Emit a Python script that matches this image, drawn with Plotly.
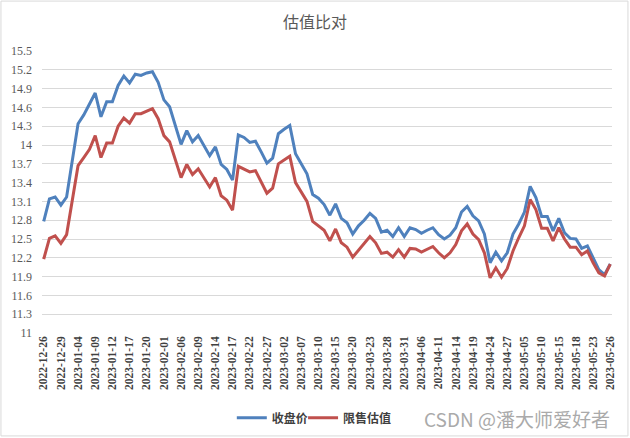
import plotly.graph_objects as go

# Trading days shown on the x axis
dates = [
    "2022-12-26", "2022-12-27", "2022-12-28", "2022-12-29", "2022-12-30",
    "2023-01-03", "2023-01-04", "2023-01-05", "2023-01-06", "2023-01-09",
    "2023-01-10", "2023-01-11", "2023-01-12", "2023-01-13", "2023-01-16",
    "2023-01-17", "2023-01-18", "2023-01-19", "2023-01-20", "2023-01-30",
    "2023-01-31", "2023-02-01", "2023-02-02", "2023-02-03", "2023-02-06",
    "2023-02-07", "2023-02-08", "2023-02-09", "2023-02-10", "2023-02-13",
    "2023-02-14", "2023-02-15", "2023-02-16", "2023-02-17", "2023-02-20",
    "2023-02-21", "2023-02-22", "2023-02-23", "2023-02-24", "2023-02-27",
    "2023-02-28", "2023-03-01", "2023-03-02", "2023-03-03", "2023-03-06",
    "2023-03-07", "2023-03-08", "2023-03-09", "2023-03-10", "2023-03-13",
    "2023-03-14", "2023-03-15", "2023-03-16", "2023-03-17", "2023-03-20",
    "2023-03-21", "2023-03-22", "2023-03-23", "2023-03-24", "2023-03-27",
    "2023-03-28", "2023-03-29", "2023-03-30", "2023-03-31", "2023-04-03",
    "2023-04-04", "2023-04-06", "2023-04-07", "2023-04-10", "2023-04-11",
    "2023-04-12", "2023-04-13", "2023-04-14", "2023-04-17", "2023-04-18",
    "2023-04-19", "2023-04-20", "2023-04-21", "2023-04-24", "2023-04-25",
    "2023-04-26", "2023-04-27", "2023-04-28", "2023-05-04", "2023-05-05",
    "2023-05-08", "2023-05-09", "2023-05-10", "2023-05-11", "2023-05-12",
    "2023-05-15", "2023-05-16", "2023-05-17", "2023-05-18", "2023-05-19",
    "2023-05-22", "2023-05-23", "2023-05-24", "2023-05-25", "2023-05-26",
]

close_price = [
    12.78, 13.14, 13.17, 13.04, 13.17, 13.76, 14.34, 14.48, 14.65, 14.83,
    14.45, 14.69, 14.69, 14.95, 15.10, 14.99, 15.13, 15.11, 15.15, 15.17,
    15.00, 14.72, 14.61, 14.32, 14.01, 14.23, 14.05, 14.15, 13.99, 13.83,
    13.97, 13.69, 13.61, 13.44, 14.16, 14.12, 14.04, 14.06, 13.89, 13.71,
    13.79, 14.18, 14.25, 14.31, 13.86, 13.70, 13.54, 13.21, 13.15, 13.05,
    12.88, 13.06, 12.83, 12.76, 12.58, 12.71, 12.80, 12.91, 12.83, 12.61,
    12.64, 12.54, 12.68, 12.54, 12.68, 12.65, 12.59, 12.64, 12.68, 12.57,
    12.50, 12.56, 12.68, 12.93, 13.02, 12.87, 12.79, 12.58, 12.12, 12.29,
    12.15, 12.28, 12.58, 12.74, 12.93, 13.34, 13.16, 12.86, 12.86, 12.63,
    12.83, 12.60, 12.51, 12.50, 12.35, 12.39, 12.19, 12.01, 11.93, 12.10,
]

restricted_value = [
    12.18, 12.51, 12.55, 12.43, 12.57, 13.12, 13.67, 13.80, 13.93, 14.15,
    13.80, 14.03, 14.03, 14.30, 14.43, 14.35, 14.50, 14.50, 14.54, 14.58,
    14.42, 14.15, 14.05, 13.77, 13.48, 13.69, 13.53, 13.62, 13.48, 13.33,
    13.48, 13.19, 13.12, 12.96, 13.66, 13.62, 13.57, 13.59, 13.41, 13.23,
    13.31, 13.70, 13.76, 13.82, 13.40, 13.24, 13.10, 12.78, 12.71, 12.64,
    12.47, 12.66, 12.44, 12.37, 12.21, 12.32, 12.42, 12.54, 12.44, 12.27,
    12.29, 12.21, 12.33, 12.21, 12.35, 12.34, 12.29, 12.33, 12.38, 12.28,
    12.20, 12.28, 12.41, 12.63, 12.74, 12.58, 12.49, 12.28, 11.88, 12.04,
    11.89, 12.03, 12.31, 12.52, 12.71, 13.13, 12.97, 12.67, 12.67, 12.47,
    12.68, 12.50, 12.37, 12.37, 12.25, 12.31, 12.12, 11.96, 11.91, 12.10,
]

y_ticks = [11, 11.3, 11.6, 11.9, 12.2, 12.5, 12.8, 13.1, 13.4, 13.7, 14,
           14.3, 14.6, 14.9, 15.2, 15.5]

fig = go.Figure()
fig.add_trace(go.Scatter(x=dates, y=close_price, mode="lines", name="收盘价",
                         line=dict(color="#4F81BD", width=3), legend="legend"))
fig.add_trace(go.Scatter(x=dates, y=restricted_value, mode="lines", name="限售估值",
                         line=dict(color="#C0504D", width=3), legend="legend2"))

# legends placed against the page so they don't squeeze the plot area
legend_style = dict(orientation="h", xanchor="left", yref="container", y=0.046, yanchor="middle",
                    font=dict(family="Noto Sans CJK SC", size=12, color="#404040", weight="bold"),
                    itemwidth=30, bgcolor="rgba(0,0,0,0)")

fig.update_layout(
    width=630, height=438,
    margin=dict(l=42, r=18, t=51, b=105),
    paper_bgcolor="white", plot_bgcolor="white",
    title=dict(text="估值比对", x=0.5, xanchor="center", y=0.95, yanchor="middle",
               font=dict(family="Noto Sans CJK SC", size=16, color="#595959")),
    legend=dict(x=0.333, **legend_style),
    legend2=dict(x=0.458, **legend_style),
    showlegend=True,
)

fig.update_xaxes(
    type="category", range=[-0.3, 99.3],
    tickvals=dates[::3], tickangle=-90,
    tickfont=dict(family="Liberation Serif", size=11.5, color="#404040", weight="bold"),
    showgrid=False, showline=False, ticks="", automargin=False,
)
fig.update_yaxes(
    range=[11, 15.5], tickvals=y_ticks, ticktext=[f"{v:g}" for v in y_ticks],
    tickfont=dict(family="Liberation Serif", size=12, color="#595959"),
    gridcolor="#D9D9D9", gridwidth=1, zeroline=False, showline=False, ticks="",
    automargin=False, ticklabelstandoff=9,
)

# watermark at the bottom right
fig.add_annotation(text="CSDN @潘大师爱好者", xref="paper", yref="paper",
                   x=1.0, y=-0.303, xanchor="right", yanchor="middle", showarrow=False,
                   font=dict(family="Noto Sans CJK SC", size=19, color="#AAAAAA"))

# outer chart border
fig.add_shape(type="rect", xref="paper", yref="paper",
              x0=-0.072, x1=1.028, y0=-0.365, y1=1.177,
              line=dict(color="#D9D9D9", width=1))

# drop the browser's default page margin so the figure sits at the window corner
fig.write_html("out.html", config={"displayModeBar": False},
               post_script="document.body.style.margin='0';")
